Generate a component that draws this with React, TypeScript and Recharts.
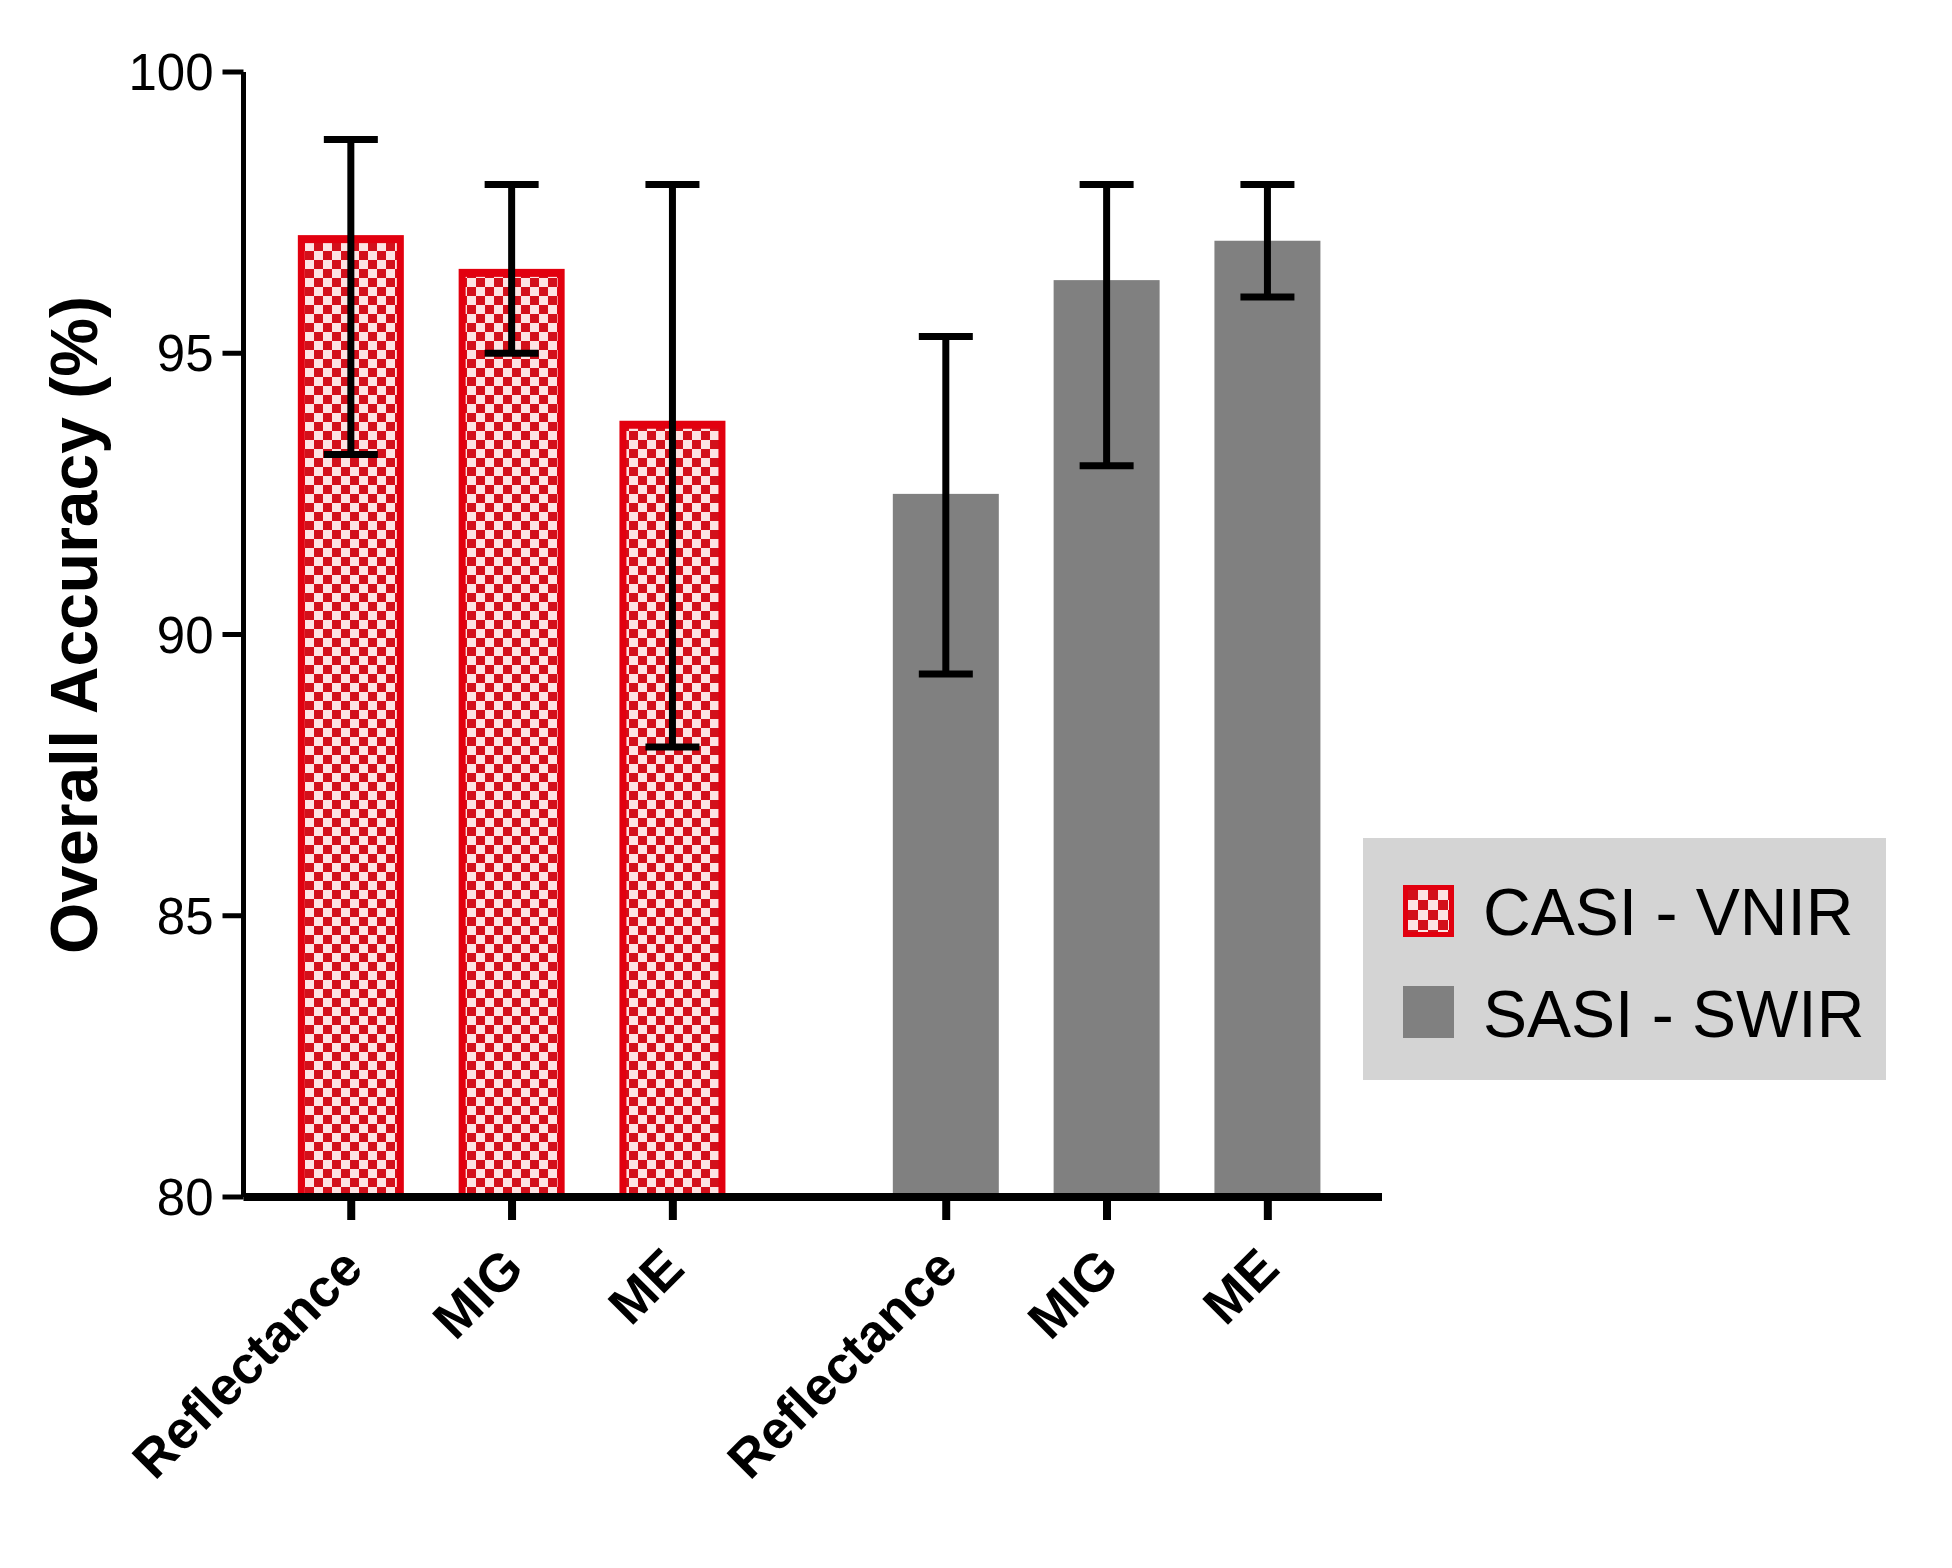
import React from 'react';
import { BarChart, Bar, XAxis, YAxis, ErrorBar, Legend } from 'recharts';

// ---- data ----
const categories = ['Reflectance', 'MIG', 'ME', 'Reflectance', 'MIG', 'ME'];
const slotPositions = [0, 1, 2, 3.7, 4.7, 5.7];
const seriesNames = ['CASI - VNIR', 'SASI - SWIR'];
const casiMean = [97.1, 96.5, 93.8];
const casiLow = [93.2, 95.0, 88.0];
const casiHigh = [98.8, 98.0, 98.0];
const sasiMean = [92.5, 96.3, 97.0];
const sasiLow = [89.3, 93.0, 96.0];
const sasiHigh = [95.3, 98.0, 98.0];
const yTicks = [80, 85, 90, 95, 100];
const yDomain = [80, 100];
const xDomain = [-0.67, 6.41];
const yTitle = 'Overall Accuracy (%)';

const data = categories.map((cat, i) => {
  const isCasi = i < 3;
  const k = isCasi ? i : i - 3;
  return {
    x: slotPositions[i],
    category: cat,
    casi: isCasi ? casiMean[k] : null,
    casiErr: isCasi ? [casiMean[k] - casiLow[k], casiHigh[k] - casiMean[k]] : null,
    sasi: !isCasi ? sasiMean[k] : null,
    sasiErr: !isCasi ? [sasiMean[k] - sasiLow[k], sasiHigh[k] - sasiMean[k]] : null,
  };
});

// ---- styles ----
const FONT = '"Liberation Sans", Arial, Helvetica, sans-serif';
const RED_BORDER = '#e2000f';
const RED_CELL = '#d3101b';
const LIGHT_CELL = '#fde3e3';
const GRAY = '#808080';
const LEGEND_BG = '#d4d4d4';

const CasiShape = (props: any) => {
  const { x, y, width, height, payload } = props;
  if (!payload || payload.casi == null || !isFinite(y) || !isFinite(height) || height <= 0) return <g />;
  return (
    <g>
      <rect x={x} y={y} width={width} height={height} fill={RED_BORDER} />
      <rect x={x + 7} y={y + 8} width={width - 14} height={Math.max(0, height - 8)} fill="url(#checker)" />
    </g>
  );
};

const SasiShape = (props: any) => {
  const { x, y, width, height, payload } = props;
  if (!payload || payload.sasi == null || !isFinite(y) || !isFinite(height) || height <= 0) return <g />;
  return <rect x={x} y={y} width={width} height={height} fill={GRAY} />;
};

const XTick = (props: any) => {
  const { x, y, payload } = props;
  const idx = slotPositions.indexOf(payload.value);
  const label = idx >= 0 ? categories[idx] : '';
  const tx = x + 14;
  const ty = y + 51;
  return (
    <text
      x={tx}
      y={ty}
      transform={`rotate(-45, ${tx}, ${ty})`}
      textAnchor="end"
      fontFamily={FONT}
      fontWeight="bold"
      fontSize={53}
      fill="#000"
    >
      {label}
    </text>
  );
};

const YTitle = (props: any) => {
  const vb = props.viewBox || { x: 0, y: 0, width: 0, height: 0 };
  const tx = vb.x + 89;
  const ty = vb.y + vb.height / 2 - 9.5;
  return (
    <text
      x={tx}
      y={ty}
      transform={`rotate(-90, ${tx}, ${ty})`}
      textAnchor="middle"
      fontFamily={FONT}
      fontWeight="bold"
      fontSize={66}
      fill="#000"
    >
      {yTitle}
    </text>
  );
};

const LegendContent = () => (
  <svg width={523} height={242} style={{ display: 'block' }}>
    <defs>
      <pattern id="checkerLegend" patternUnits="userSpaceOnUse" x={45} y={52} width={20} height={20}>
        <rect width={20} height={20} fill={LIGHT_CELL} />
        <rect width={10} height={10} fill={RED_CELL} />
        <rect x={10} y={10} width={10} height={10} fill={RED_CELL} />
      </pattern>
    </defs>
    <rect x={0} y={0} width={523} height={242} fill={LEGEND_BG} />
    <rect x={40} y={47} width={51} height={52} fill={RED_BORDER} />
    <rect x={45} y={52} width={41} height={42} fill="url(#checkerLegend)" />
    <text x={120} y={97} fontFamily={FONT} fontSize={66} fill="#000">{seriesNames[0]}</text>
    <rect x={40} y={148} width={51} height={52} fill={GRAY} />
    <text x={120} y={199} fontFamily={FONT} fontSize={66} fill="#000">{seriesNames[1]}</text>
  </svg>
);

export default function App() {
  return (
    <div style={{ width: 1936, height: 1552 }}>
      <BarChart
        width={1936}
        height={1552}
        data={data}
        margin={{ top: 64, right: 562, bottom: 63, left: 0 }}
        barSize={106}
      >
        <defs>
          <pattern id="checker" patternUnits="userSpaceOnUse" width={18} height={18}>
            <rect width={18} height={18} fill={LIGHT_CELL} />
            <rect width={9} height={9} fill={RED_CELL} />
            <rect x={9} y={9} width={9} height={9} fill={RED_CELL} />
          </pattern>
        </defs>
        <XAxis
          xAxisId="a"
          dataKey="x"
          type="number"
          domain={xDomain}
          allowDataOverflow
          ticks={slotPositions}
          interval={0}
          height={300}
          axisLine={{ stroke: '#000', strokeWidth: 8 }}
          tickLine={{ stroke: '#000', strokeWidth: 8 }}
          tickSize={23}
          tickMargin={0}
          tick={<XTick />}
        />
        <XAxis xAxisId="b" dataKey="x" type="number" domain={xDomain} allowDataOverflow hide />
        <YAxis
          domain={yDomain}
          ticks={yTicks}
          interval={0}
          allowDataOverflow
          width={235.5}
          axisLine={{ stroke: '#000', strokeWidth: 5 }}
          tickLine={{ stroke: '#000', strokeWidth: 5 }}
          tickSize={21}
          tickMargin={9}
          tick={{ fill: '#000', fontSize: 51, fontFamily: FONT }}
          label={{ value: yTitle, content: (p: any) => <YTitle {...p} /> }}
        />
        <Legend
          layout="vertical"
          align="center"
          verticalAlign="middle"
          content={() => <LegendContent />}
          wrapperStyle={{ left: 1355, top: 830, width: 523, height: 242 }}
        />
        <Bar
          xAxisId="a"
          dataKey="casi"
          name={seriesNames[0]}
          shape={(p: any) => <CasiShape {...p} />}
          isAnimationActive={false}
        >
          <ErrorBar dataKey="casiErr" direction="y" width={27} strokeWidth={7} stroke="#000" isAnimationActive={false} />
        </Bar>
        <Bar
          xAxisId="b"
          dataKey="sasi"
          name={seriesNames[1]}
          shape={(p: any) => <SasiShape {...p} />}
          isAnimationActive={false}
        >
          <ErrorBar dataKey="sasiErr" direction="y" width={27} strokeWidth={7} stroke="#000" isAnimationActive={false} />
        </Bar>
      </BarChart>
    </div>
  );
}
